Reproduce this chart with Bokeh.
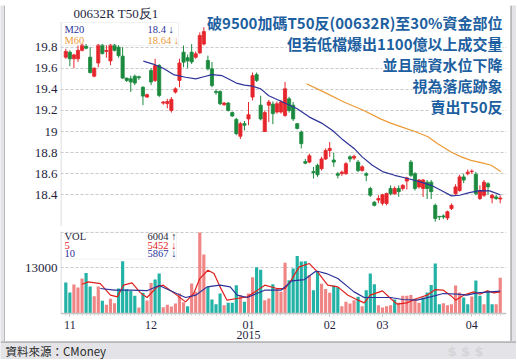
from bokeh.plotting import figure
from bokeh.models import Range1d, FixedTicker, Label, BoxAnnotation, ColumnDataSource
from bokeh.layouts import column, row
from bokeh.embed import file_html
from bokeh.resources import INLINE

# ---------------- data ----------------
month_ticks = [1, 21, 45, 65, 78, 100]
month_labels = ["11", "12", "01", "02", "03", "04"]
year_tick = 45
year_label = "2015"

opens = [19.705, 19.753, 19.69, 19.69, 19.77, 19.81, 19.705, 19.525, 19.65, 19.82,
         19.76, 19.67, 19.82, 19.80, 19.715, 19.507, 19.50, 19.525, 19.52, 19.42,
         19.327, 19.58, 19.485, 19.627, 19.27, 19.265, 19.20, 19.374, 19.485, 19.753,
         19.70, 19.753, 19.705, 19.746, 19.83, 19.674, 19.595, 19.38, 19.38, 19.254,
         19.27, 19.18, 19.115, 18.955, 19.075, 19.12, 19.327, 19.54, 19.25, 19.00,
         19.25, 19.26, 19.185, 19.185, 19.153, 19.31, 19.25, 19.075, 18.995, 18.715,
         18.71, 18.62, 18.68, 18.648, 18.74, 18.82, 18.73, 18.60, 18.60, 18.60,
         18.76, 18.748, 18.71, 18.63, 18.60, 18.46, 18.33, 18.35, 18.32, 18.318,
         18.46, 18.41, 18.46, 18.46, 18.53, 18.71, 18.60, 18.475, 18.46, 18.52,
         18.52, 18.30, 18.195, 18.20, 18.18, 18.27, 18.41, 18.44, 18.57, 18.60,
         18.62, 18.595, 18.365, 18.395, 18.505, 18.37, 18.38, 18.36]
closes = [19.76, 19.69, 19.727, 19.77, 19.82, 19.79, 19.56, 19.60, 19.82, 19.74,
          19.77, 19.82, 19.77, 19.72, 19.507, 19.485, 19.47, 19.46, 19.51, 19.336,
          19.35, 19.47, 19.627, 19.343, 19.28, 19.285, 19.305, 19.405, 19.65, 19.658,
          19.67, 19.66, 19.737, 19.91, 19.948, 19.595, 19.437, 19.37, 19.264, 19.27,
          19.20, 19.147, 18.98, 19.074, 19.06, 19.16, 19.53, 19.485, 19.12, 19.18,
          19.28, 19.17, 19.264, 19.28, 19.405, 19.20, 19.12, 19.03, 18.885, 18.70,
          18.77, 18.61, 18.59, 18.74, 18.82, 18.84, 18.71, 18.585, 18.615, 18.695,
          18.74, 18.765, 18.63, 18.665, 18.585, 18.396, 18.30, 18.365, 18.40, 18.412,
          18.41, 18.46, 18.43, 18.49, 18.56, 18.585, 18.46, 18.54, 18.54, 18.46,
          18.43, 18.175, 18.19, 18.19, 18.24, 18.30, 18.475, 18.57, 18.54, 18.615,
          18.625, 18.41, 18.44, 18.52, 18.475, 18.395, 18.365, 18.37]
highs = [19.785, 19.77, 19.737, 19.815, 19.83, 19.83, 19.80, 19.61, 19.83, 19.83,
         19.82, 19.83, 19.83, 19.82, 19.80, 19.51, 19.53, 19.54, 19.53, 19.43,
         19.36, 19.60, 19.69, 19.64, 19.29, 19.31, 19.327, 19.42, 19.69, 19.816,
         19.73, 19.83, 19.76, 19.94, 19.99, 19.72, 19.66, 19.40, 19.39, 19.28,
         19.28, 19.19, 19.13, 19.09, 19.10, 19.28, 19.56, 19.56, 19.34, 19.20,
         19.30, 19.285, 19.285, 19.30, 19.47, 19.33, 19.28, 19.08, 19.01, 18.74,
         18.79, 18.665, 18.695, 18.76, 18.84, 18.90, 18.80, 18.615, 18.63, 18.71,
         18.775, 18.78, 18.73, 18.68, 18.615, 18.475, 18.34, 18.395, 18.41, 18.42,
         18.49, 18.48, 18.49, 18.50, 18.57, 18.73, 18.615, 18.55, 18.55, 18.54,
         18.54, 18.317, 18.20, 18.215, 18.25, 18.317, 18.50, 18.59, 18.60, 18.64,
         18.64, 18.617, 18.49, 18.54, 18.52, 18.41, 18.40, 18.395]
lows = [19.69, 19.62, 19.60, 19.66, 19.76, 19.78, 19.55, 19.515, 19.61, 19.73,
        19.70, 19.63, 19.76, 19.70, 19.50, 19.47, 19.375, 19.44, 19.49, 19.25,
        19.32, 19.44, 19.47, 19.327, 19.255, 19.22, 19.18, 19.36, 19.42, 19.61,
        19.60, 19.64, 19.69, 19.737, 19.816, 19.58, 19.42, 19.35, 19.25, 19.245,
        19.19, 19.14, 18.965, 18.93, 19.01, 19.06, 19.295, 19.47, 19.106, 18.996,
        19.09, 19.07, 19.17, 19.17, 19.14, 19.18, 19.10, 19.02, 18.84, 18.69,
        18.70, 18.555, 18.57, 18.63, 18.73, 18.76, 18.665, 18.555, 18.58, 18.59,
        18.71, 18.73, 18.615, 18.62, 18.53, 18.38, 18.29, 18.32, 18.30, 18.30,
        18.395, 18.40, 18.38, 18.44, 18.45, 18.57, 18.44, 18.46, 18.38, 18.36,
        18.36, 18.145, 18.16, 18.17, 18.16, 18.255, 18.40, 18.43, 18.51, 18.585,
        18.60, 18.395, 18.35, 18.38, 18.40, 18.32, 18.35, 18.32]

volumes = [8825, 5980, 8256, 7400, 9960, 11580, 7690, 4935, 7690, 3600,
           2470, 4175, 2940, 7120, 14900, 6930, 6450, 5030, 1710, 5880,
           3700, 8730, 9680, 11390, 1800, 2470, 2000, 2850, 5700, 3230,
           2090, 8540, 6170, 23100, 16800, 7590, 3990, 2660, 5700, 2370,
           3040, 3040, 8070, 5220, 3320, 5700, 10350, 13200, 12500, 3800,
           4270, 8350, 7120, 6170, 14500, 9500, 12800, 16400, 14800, 14900,
           11000, 6600, 12000, 8500, 7000, 5900, 8000, 7500, 2090, 3320,
           2850, 3800, 4750, 2090, 6640, 11390, 8350, 2370, 1710, 2090,
           2370, 4000, 3100, 5040, 5040, 5240, 4270, 3100, 4560, 6000,
           8150, 14260, 2620, 2900, 2330, 2620, 7950, 6000, 4560, 2620,
           4850, 9400, 5040, 2620, 6500, 2620, 2620, 10200]
vol_up = [0, 0, 1, 1, 1, 0, 0, 1, 1, 0,
          1, 1, 1, 0, 0, 0, 0, 0, 1, 0,
          1, 1, 0, 0, 1, 1, 1, 1, 1, 1,
          0, 1, 1, 1, 1, 0, 0, 0, 0, 1,
          0, 0, 0, 1, 0, 1, 1, 0, 0, 1,
          1, 0, 1, 1, 1, 0, 0, 0, 0, 0,
          1, 0, 0, 1, 1, 1, 0, 0, 1, 1,
          1, 1, 0, 1, 0, 0, 0, 1, 1, 1,
          1, 0, 1, 1, 1, 1, 1, 1, 0, 0,
          0, 0, 0, 1, 1, 1, 1, 1, 0, 0,
          1, 0, 0, 1, 0, 0, 1, 1]

ma20_x = [19.1, 21.5, 24, 26.5, 29.5, 32, 34, 36, 38.5, 40, 42, 44, 46, 48, 50, 53.4, 57, 60,
          63, 65.7, 68, 71, 73, 75.5, 78, 81, 84.2, 87.5, 90, 92.5, 95, 97, 99.4, 101.9, 104.4, 107]
ma20_y = [19.668, 19.64, 19.60, 19.54, 19.515, 19.50, 19.52, 19.54, 19.53, 19.50, 19.46, 19.44,
          19.43, 19.405, 19.34, 19.28, 19.216, 19.137, 19.08, 19.01, 18.93, 18.84, 18.76, 18.68,
          18.62, 18.585, 18.555, 18.52, 18.49, 18.44, 18.39, 18.396, 18.42, 18.44, 18.437, 18.40]
ma60_x = [59.3, 63.6, 68.5, 73.4, 77.5, 80, 83, 86, 89.2, 91.6, 94.9, 97.4, 99.8, 102.3, 104.8, 107.1]
ma60_y = [19.453, 19.374, 19.28, 19.20, 19.12, 19.08, 19.04, 19.00, 18.95, 18.885, 18.806,
          18.76, 18.727, 18.705, 18.68, 18.62]

vma5_x = [4, 5.5, 8.5, 11, 12.7, 14.2, 16.3, 18.4, 20, 22.5, 24, 26.6, 29.5, 31.5, 33, 35, 36.5,
          38, 39.7, 42.2, 44.7, 47, 49, 52, 54, 55.5, 57.5, 60, 62, 64.5, 67, 69.5, 72, 73.5, 75,
          78, 80, 81.6, 84, 86.5, 89, 91, 93, 95, 96, 98, 100.5, 102, 103.8, 105.5, 107]
vma5_y = [8350, 9000, 8540, 5220, 4745, 8070, 8730, 5880, 4555, 7590, 8070, 5880, 3320, 5700,
          9960, 12340, 11390, 7590, 3800, 4270, 4745, 6450, 8070, 7120, 7120, 9500, 13290, 14240,
          11860, 8070, 7590, 5220, 3800, 3040, 5220, 6450, 4270, 2660, 3040, 4270, 5220, 6830,
          6640, 4935, 3800, 5220, 6170, 5500, 6450, 5880, 6170]
vma10_x = [8.5, 12, 16, 20, 23, 27.3, 29.5, 32, 34.8, 38, 40.5, 42.2, 44.7, 47, 49, 53, 55.7,
           58.8, 61.3, 62, 64.2, 67, 69.5, 71, 73.5, 76.7, 80, 83, 86.5, 89.8, 93, 96.4, 98.8,
           101.3, 104.6, 107]
vma10_y = [7120, 6640, 6640, 6500, 8000, 5700, 4550, 5220, 7590, 8070, 7590, 5220, 4555, 5700,
           6640, 6640, 9300, 9680, 11860, 12050, 11390, 9960, 7590, 6170, 4555, 4555, 4555, 3990,
           3800, 4745, 5700, 5500, 5220, 5880, 6170, 6360]

price_ticks = [18.4, 18.6, 18.8, 19.0, 19.2, 19.4, 19.6, 19.8]
price_tick_labels = ["18.4", "18.6", "18.8", "19", "19.2", "19.4", "19.6", "19.8"]
vol_ticks = [13000]
vol_tick_labels = ["13000"]

title_text = "00632R T50反1"
price_legend = [("M20", "18.4 ↓"), ("M60", "18.64 ↓")]
vol_legend = [("VOL", "6004 ↑"), ("5", "5452 ↓"), ("10", "5867 ↓")]
notes = ["破9500加碼T50反(00632R)至30%資金部位",
         "但若低檔爆出1100億以上成交量",
         "並且融資水位下降",
         "視為落底跡象",
         "賣出T50反"]
source_text = "資料來源：CMoney"

# ---------------- styling / geometry ----------------
RED, GREEN = "#e6262c", "#1b8a3e"
VPINK, VTEAL = "#f08585", "#22b2a6"
BLUE_MA, ORANGE_MA, RED_MA = "#2d3399", "#ec9a35", "#e0201c"
NOTE_BLUE = "#1d5fa0"
DARK = "#1e1e3c"
BG = "#e4e4e8"
SERIF = "Liberation Serif"
CJK = "Noto Sans CJK TC"

X0, DX = 65.3, 4.06            # screen x of bar 0 and bar spacing
def fx(px):
    return (px - X0) / DX

def py(ref_y):                 # price at a screen y of the upper panel
    return 19.8 - (ref_y - 46.7) / 105.43

VPP = 13000 / 45.6              # volume units per pixel
VBASE = 313                     # screen y of zero volume
xr = Range1d(fx(60), fx(506))


def strip(w, h, **borders):
    f = figure(width=w, height=h, output_backend="svg", toolbar_location=None,
               x_axis_location=None, y_axis_location=None,
               min_border_left=borders.get("left", 0), min_border_right=borders.get("right", 0),
               min_border_top=borders.get("top", 0), min_border_bottom=borders.get("bottom", 0),
               background_fill_color=borders.get("bg", BG),
               border_fill_color=borders.get("edge", "#1a1a1a"), outline_line_color=None)
    f.grid.visible = False
    return f

# ---------- upper (price) panel : page x 5..510, y 5..226 ----------
pa = figure(width=505, height=221, output_backend="svg", toolbar_location=None,
            x_range=xr, y_range=Range1d(py(226), py(5)), x_axis_location=None,
            min_border_left=55, min_border_right=4, min_border_top=0, min_border_bottom=0)
pa.extra_x_ranges = {"px": Range1d(60, 506)}
pa.extra_y_ranges = {"py": Range1d(226, 5)}
pa.outline_line_color = None
pa.background_fill_color = "white"
pa.border_fill_color = "white"
pa.xgrid.visible = False
pa.ygrid.grid_line_color = "#c9c9c9"
pa.ygrid.grid_line_dash = "3 2"
pa.yaxis.ticker = FixedTicker(ticks=price_ticks)
pa.yaxis.major_label_overrides = {t: l for t, l in zip(price_ticks, price_tick_labels)}
pa.yaxis.major_label_text_font = SERIF
pa.yaxis.major_label_text_font_size = "13px"
pa.yaxis.major_label_text_color = DARK
pa.yaxis.major_tick_out = 0
pa.yaxis.major_tick_in = 0
pa.yaxis.minor_tick_line_color = None
pa.yaxis.axis_line_color = None
pa.yaxis.major_label_standoff = 3
pa.add_layout(BoxAnnotation(left=60, right=61, top=22, bottom=226, x_range_name="px",
                            y_range_name="py", fill_color="#d2d2d2", fill_alpha=1,
                            line_color=None))

n = len(opens)
idx = list(range(n))
ccol = [RED if c >= o else GREEN for o, c in zip(opens, closes)]
src = ColumnDataSource(dict(
    x=idx, h=highs, l=lows,
    top=[max(o, c) for o, c in zip(opens, closes)],
    bot=[min(o, c) for o, c in zip(opens, closes)],
    color=ccol))
pa.segment(x0="x", y0="h", x1="x", y1="l", line_color="color", line_width=1, source=src)
pa.vbar(x="x", width=0.78, top="top", bottom="bot", fill_color="color",
        line_color="color", line_width=0.8, source=src)
pa.line(ma20_x, ma20_y, line_color=BLUE_MA, line_width=1.2)
pa.line(ma60_x, ma60_y, line_color=ORANGE_MA, line_width=1.2)

def lab_a(x, y, text, **kw):
    pa.add_layout(Label(x=x, y=y, text=text, x_range_name="px", y_range_name="py",
                        text_baseline="middle", **kw))

pa.add_layout(BoxAnnotation(left=60, right=178, top=22, bottom=45, x_range_name="px",
                            y_range_name="py", fill_color=None, fill_alpha=0,
                            line_color="#d3d3d3", line_width=1))
lab_a(73, 13, title_text, text_font=SERIF, text_font_size="13px", text_color=DARK)
for k, (name, val) in enumerate(price_legend):
    col = BLUE_MA if k == 0 else ORANGE_MA
    lab_a(64, 28.5 + 11 * k, name, text_font=SERIF, text_font_size="10.5px", text_color=col)
    lab_a(147, 28.5 + 11 * k, val, text_font=SERIF, text_font_size="10.5px", text_color=col)
for k, t in enumerate(notes):
    lab_a(502, [22, 43, 63.5, 85, 106][k], t, text_font=CJK, text_font_style="bold",
          text_font_size="15px", text_color=NOTE_BLUE, text_align="right",
          background_fill_color="white")

# ---------- separator band with month ticks : y 226..230 ----------
ps = figure(width=505, height=4, output_backend="svg", toolbar_location=None,
            x_range=xr, y_range=Range1d(0, 1), x_axis_location=None, y_axis_location=None,
            min_border_left=55, min_border_right=4, min_border_top=0, min_border_bottom=0,
            background_fill_color="#dcdcdc", border_fill_color="#dcdcdc",
            outline_line_color=None)
ps.grid.visible = False
ps.segment(x0=month_ticks, y0=[0] * len(month_ticks), x1=month_ticks, y1=[1] * len(month_ticks),
           line_color="#b0b0b0", line_width=1)

# ---------- volume panel : y 230..341, frame 231..341, zero volume at y 313 ----------
pb = figure(width=505, height=111, output_backend="svg", toolbar_location=None,
            x_range=xr, y_range=Range1d(-(341 - VBASE) * VPP, (VBASE - 231) * VPP),
            min_border_left=55, min_border_right=4, min_border_top=1, min_border_bottom=0)
pb.extra_x_ranges = {"px": Range1d(60, 506)}
pb.extra_y_ranges = {"py": Range1d(341, 231)}
pb.outline_line_color = None
pb.background_fill_color = "white"
pb.border_fill_color = "white"
pb.xgrid.visible = False
pb.ygrid.ticker = FixedTicker(ticks=[13000, (VBASE - 232) * VPP])
pb.ygrid.grid_line_color = "#c9c9c9"
pb.ygrid.grid_line_dash = "3 2"
pb.yaxis.ticker = FixedTicker(ticks=vol_ticks)
pb.yaxis.major_label_overrides = {t: l for t, l in zip(vol_ticks, vol_tick_labels)}
pb.yaxis.major_label_text_font = SERIF
pb.yaxis.major_label_text_font_size = "13px"
pb.yaxis.major_label_text_color = DARK
pb.yaxis.major_tick_out = 0
pb.yaxis.major_tick_in = 0
pb.yaxis.minor_tick_line_color = None
pb.yaxis.axis_line_color = None
pb.yaxis.major_label_standoff = 3
pb.add_layout(BoxAnnotation(left=60, right=61, top=231, bottom=VBASE, x_range_name="px",
                            y_range_name="py", fill_color="#d2d2d2", fill_alpha=1,
                            line_color=None))
pb.xaxis.fixed_location = 0
pb.xaxis.ticker = FixedTicker(ticks=month_ticks, minor_ticks=idx)
pb.xaxis.major_label_overrides = {t: l for t, l in zip(month_ticks, month_labels)}
pb.xaxis.major_label_text_font = SERIF
pb.xaxis.major_label_text_font_size = "12px"
pb.xaxis.major_label_text_color = DARK
pb.xaxis.major_label_standoff = 4
pb.xaxis.axis_line_color = "#c4c4c4"
pb.xaxis.axis_line_width = 1.5
pb.xaxis.major_tick_out = 3
pb.xaxis.major_tick_in = 0
pb.xaxis.major_tick_line_color = "#b0b0b0"
pb.xaxis.minor_tick_out = 2
pb.xaxis.minor_tick_in = 0
pb.xaxis.minor_tick_line_color = "#d0d0d0"

vsrc = ColumnDataSource(dict(x=idx, v=volumes,
                             color=[VPINK if u else VTEAL for u in vol_up]))
pb.vbar(x="x", width=0.78, top="v", bottom=0, fill_color="color", line_color=None, source=vsrc)
pb.line(vma5_x, vma5_y, line_color=RED_MA, line_width=1.2)
pb.line(vma10_x, vma10_y, line_color=BLUE_MA, line_width=1.2)

def lab_b(x, y, text, **kw):
    pb.add_layout(Label(x=x, y=y, text=text, x_range_name="px", y_range_name="py",
                        text_baseline="middle", **kw))

pb.add_layout(BoxAnnotation(left=60, right=176, top=231.5, bottom=258.5, x_range_name="px",
                            y_range_name="py", fill_color=None, fill_alpha=0,
                            line_color="#d3d3d3", line_width=1))
for k, (name, val) in enumerate(vol_legend):
    col = [DARK, RED_MA, BLUE_MA][k]
    lab_b(64, 236 + 8.7 * k, name, text_font=SERIF, text_font_size="10.5px", text_color=col)
    lab_b(147, 236 + 8.7 * k, val, text_font=SERIF, text_font_size="10.5px", text_color=col)
pb.add_layout(Label(x=year_tick, y=-(334.5 - VBASE) * VPP, text=year_label, text_font=SERIF,
                    text_font_size="12px", text_line_height=1.0, text_color=DARK,
                    text_align="center", text_baseline="middle"))

# ---------- frame strips and bottom strip ----------
top_strip = strip(516, 5, bottom=1)
left_strip = strip(5, 336, right=1)
right_strip = strip(6, 336, left=1)

pc = figure(width=516, height=18, output_backend="svg", toolbar_location=None,
            x_range=Range1d(0, 516), y_range=Range1d(359, 342),
            x_axis_location=None, y_axis_location=None,
            min_border_left=0, min_border_right=0, min_border_top=1, min_border_bottom=0,
            background_fill_color=BG, border_fill_color="#1a1a1a", outline_line_color=None)
pc.grid.visible = False
pc.add_layout(Label(x=465, y=350.5, text="$ $ $", text_font="DejaVu Sans", text_font_style="bold",
                    text_font_size="13px", text_color="#d4d4d9", text_align="center",
                    text_baseline="middle"))
pc.add_layout(Label(x=5, y=350.5, text=source_text, text_font=CJK, text_font_size="11.5px",
                    text_color="#2a2a2a", text_baseline="middle"))

layout = column(top_strip,
                row(left_strip, column(pa, ps, pb, spacing=0), right_strip, spacing=0),
                pc, spacing=0)
open("out.html", "w").write(file_html(layout, INLINE))
